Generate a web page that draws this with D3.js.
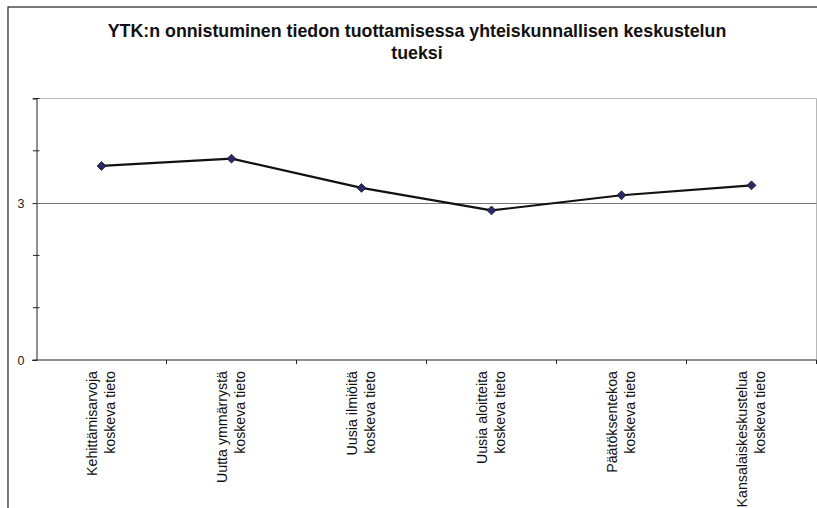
<!DOCTYPE html>
<html>
<head>
<meta charset="utf-8">
<script src="https://cdn.jsdelivr.net/npm/d3@7/dist/d3.min.js"></script>
<style>
  html, body { margin: 0; padding: 0; background: #fff; }
  svg { display: block; font-family: "Liberation Sans", Arial, sans-serif; }
</style>
</head>
<body>
<svg id="chart" width="817" height="508"></svg>
<script>
const titleLines = ["YTK:n onnistuminen tiedon tuottamisessa yhteiskunnallisen keskustelun", "tueksi"];
const categories = [
  ["Kehittämisarvoja", "koskeva tieto"],
  ["Uutta ymmärrystä", "koskeva tieto"],
  ["Uusia ilmiöitä", "koskeva tieto"],
  ["Uusia aloitteita", "koskeva tieto"],
  ["Päätöksentekoa", "koskeva tieto"],
  ["Kansalaiskeskustelua", "koskeva tieto"]
];
const values = [3.71, 3.85, 3.29, 2.86, 3.15, 3.34];
const yMajorTicks = [0, 3];
const yMinorTicks = [1, 2, 4, 5];
const yDomain = [0, 5];

const svg = d3.select("#chart");
const W = 817, H = 508;
const plot = { left: 36.5, right: 816.5, top: 98.5, bottom: 360 };

// outer frame
svg.append("rect").attr("x", 8).attr("y", 7).attr("width", W).attr("height", H)
  .attr("fill", "none").attr("stroke", "#222").attr("stroke-width", 1.2);

// title
const title = svg.append("text").attr("text-anchor", "middle")
  .attr("font-weight", "bold").attr("font-size", 17.8).attr("fill", "#111");
titleLines.forEach((t, i) => {
  title.append("tspan").attr("x", 417).attr("y", 37 + i * 21.5).text(t);
});

const keys = categories.map((c, i) => i);
const x = d3.scaleBand().domain(keys).range([plot.left, plot.right]).padding(0);
const y = d3.scaleLinear().domain(yDomain).range([plot.bottom, plot.top]);

// plot border (top and right)
svg.append("path")
  .attr("d", `M${plot.left},${plot.top}H${plot.right}V${plot.bottom}`)
  .attr("fill", "none").attr("stroke", "#b8b8b8").attr("stroke-width", 1);

// gridlines at major ticks (excluding 0)
svg.append("g").selectAll("line").data(yMajorTicks.filter(d => d > 0)).join("line")
  .attr("x1", plot.left).attr("x2", plot.right)
  .attr("y1", d => Math.round(y(d)) + 0.5).attr("y2", d => Math.round(y(d)) + 0.5)
  .attr("stroke", "#777").attr("stroke-width", 1);

// y axis (major ticks with labels)
const yAxis = d3.axisLeft(y).tickValues(yMajorTicks).tickSize(4).tickPadding(8)
  .tickFormat(d3.format("d"));
const gy = svg.append("g").attr("transform", `translate(${plot.left},0)`).call(yAxis);
gy.select(".domain").attr("stroke", "#222");
gy.selectAll(".tick line").attr("stroke", "#222");
gy.selectAll(".tick text").attr("font-size", 12.5).attr("fill", "#222")
  .attr("font-family", "Liberation Sans, Arial, sans-serif");

// minor ticks (crossing)
svg.append("g").selectAll("line").data(yMinorTicks).join("line")
  .attr("x1", plot.left - 3.5).attr("x2", plot.left + 3)
  .attr("y1", d => y(d)).attr("y2", d => y(d))
  .attr("stroke", "#222").attr("stroke-width", 1);

// x axis
svg.append("line").attr("x1", plot.left - 4).attr("x2", plot.right)
  .attr("y1", plot.bottom).attr("y2", plot.bottom)
  .attr("stroke", "#222").attr("stroke-width", 1.2);
// category boundary ticks
svg.append("g").selectAll("line").data(keys.slice(1).concat([keys.length])).join("line")
  .attr("x1", d => d < keys.length ? x(d) : plot.right)
  .attr("x2", d => d < keys.length ? x(d) : plot.right)
  .attr("y1", plot.bottom).attr("y2", plot.bottom + 4)
  .attr("stroke", "#222").attr("stroke-width", 1);

// category labels, rotated
const labG = svg.append("g");
categories.forEach((lines, i) => {
  const cx = x(i) + x.bandwidth() / 2;
  const g = labG.append("g").attr("transform", `translate(${cx},${plot.bottom + 11}) rotate(-90)`);
  const n = lines.length;
  lines.forEach((ln, j) => {
    g.append("text").attr("x", 0).attr("y", (j - (n - 1) / 2) * 18)
      .attr("dy", "0.35em")
      .attr("text-anchor", "end").attr("font-size", 14.2).attr("fill", "#111")
      .text(ln);
  });
});

// line
const line = d3.line().x((d, i) => x(i) + x.bandwidth() / 2).y(d => y(d));
svg.append("path").datum(values).attr("d", line)
  .attr("fill", "none").attr("stroke", "#111").attr("stroke-width", 2.2)
  .attr("stroke-linejoin", "round");

// markers
svg.append("g").selectAll("path").data(values).join("path")
  .attr("transform", (d, i) => `translate(${x(i) + x.bandwidth() / 2},${y(d)})`)
  .attr("d", d3.symbol(d3.symbolDiamond2, 50))
  .attr("fill", "#2a2a6a").attr("stroke", "#111").attr("stroke-width", 0.8);
</script>
</body>
</html>
